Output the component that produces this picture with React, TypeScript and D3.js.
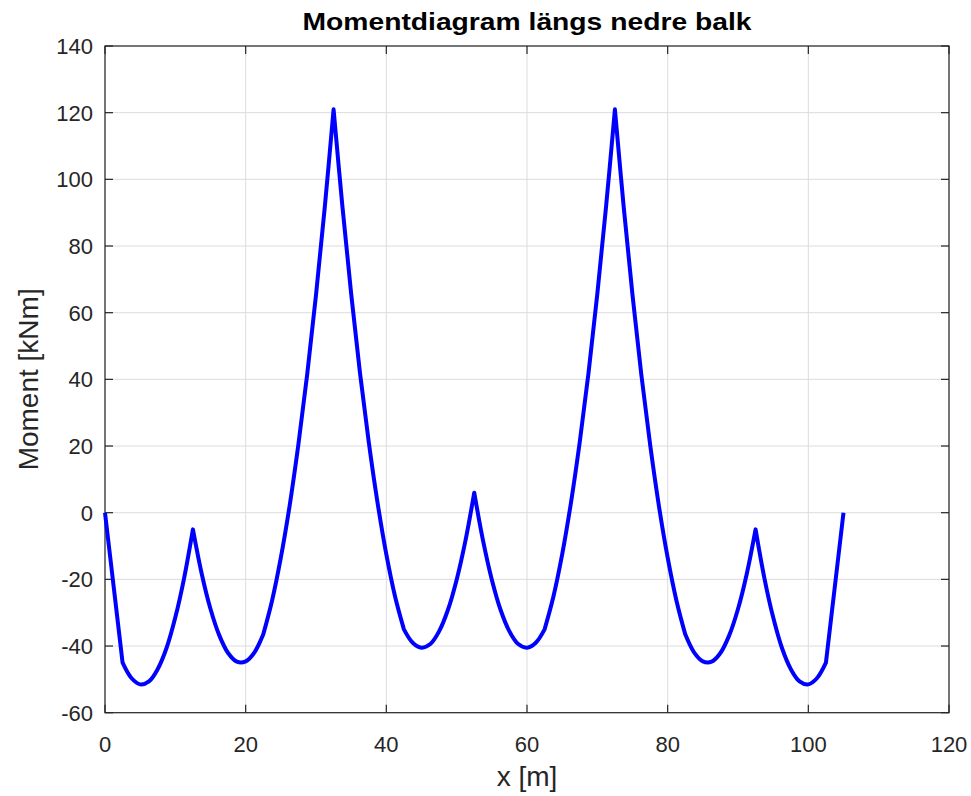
import React from "react";
import * as d3 from "d3";

const title = "Momentdiagram längs nedre balk";
const xLabel = "x [m]";
const yLabel = "Moment [kNm]";

const xTicks = [0, 20, 40, 60, 80, 100, 120];
const yTicks = [-60, -40, -20, 0, 20, 40, 60, 80, 100, 120, 140];

// positions along the beam [m]
const xValues = [
  0, 1.25, 2.5, 3.75, 5, 6.25, 7.5, 8.75, 10, 11.25,
  12.5, 13.75, 15, 16.25, 17.5, 18.75, 20, 21.25,
  22.5, 23.75, 25, 26.25, 27.5, 28.75, 30, 31.25,
  32.5, 33.75, 35, 36.25, 37.5, 38.75, 40, 41.25,
  42.5, 43.75, 45, 46.25, 47.5, 48.75, 50, 51.25,
  52.5, 53.75, 55, 56.25, 57.5, 58.75, 60, 61.25,
  62.5, 63.75, 65, 66.25, 67.5, 68.75, 70, 71.25,
  72.5, 73.75, 75, 76.25, 77.5, 78.75, 80, 81.25,
  82.5, 83.75, 85, 86.25, 87.5, 88.75, 90, 91.25,
  92.5, 93.75, 95, 96.25, 97.5, 98.75, 100, 101.25,
  102.5, 103.75, 105,
];

// bending moment [kNm]
const momentValues = [
  0, -22.5, -45, -49.6, -51.5, -50.6, -46.9, -40.6, -31.4, -19.6,
  -5.0, -18.3, -28.9, -36.8, -42.1, -44.7, -44.6, -41.9,
  -36.5, -26.4, -13.5, 2.1, 20.5, 41.5, 65.3, 91.7,
  121, 92.0, 65.7, 42.0, 21.2, 3.0, -12.5, -25.2,
  -35.0, -39.0, -40.5, -39.4, -35.6, -29.2, -20.1, -8.4,
  6.0, -8.4, -20.1, -29.2, -35.6, -39.4, -40.5, -39.0,
  -35.0, -25.2, -12.5, 3.0, 21.2, 42.0, 65.7, 92.0,
  121, 91.7, 65.3, 41.5, 20.5, 2.1, -13.5, -26.4,
  -36.5, -41.9, -44.6, -44.7, -42.1, -36.8, -28.9, -18.3,
  -5.0, -19.6, -31.4, -40.6, -46.9, -50.6, -51.5, -49.6,
  -45, -22.5, 0,
];

// load points / supports where the diagram has a kink [m]
const kinkX = [0, 2.5, 12.5, 22.5, 32.5, 42.5, 52.5, 62.5, 72.5, 82.5, 92.5, 102.5, 105];

const W = 971;
const H = 796;
const left = 105;
const right = 949;
const top = 46;
const bottom = 712.7;
const axisColor = "#262626";
const gridColor = "#dcdcdc";
const font = "'Liberation Sans', Arial, Helvetica, sans-serif";
const tickLen = 8;

export default function App() {
  const x = d3.scaleLinear().domain([0, 120]).range([left, right]);
  const y = d3.scaleLinear().domain([-60, 140]).range([bottom, top]);
  const pts: [number, number][] = xValues.map((v, i) => [v, momentValues[i]]);
  const line = d3
    .line<[number, number]>()
    .x((d) => x(d[0]))
    .y((d) => y(d[1]))
    .curve(d3.curveCatmullRom);

  let d = "";
  for (let k = 0; k < kinkX.length - 1; k++) {
    const seg = pts.filter((p) => p[0] >= kinkX[k] && p[0] <= kinkX[k + 1]);
    const s = line(seg) ?? "";
    d += k === 0 ? s : s.replace(/^M/, "L");
  }

  return (
    <svg
      width={W}
      height={H}
      style={{ position: "absolute", left: 0, top: 0, display: "block", background: "#fff" }}
    >
      <rect x={0} y={0} width={W} height={H} fill="#fff" />
      {/* grid */}
      {xTicks.map((t) => (
        <line key={"gx" + t} x1={x(t)} x2={x(t)} y1={top} y2={bottom} stroke={gridColor} strokeWidth={1} />
      ))}
      {yTicks.map((t) => (
        <line key={"gy" + t} x1={left} x2={right} y1={y(t)} y2={y(t)} stroke={gridColor} strokeWidth={1} />
      ))}
      {/* box */}
      <rect x={left} y={top} width={right - left} height={bottom - top} fill="none" stroke={axisColor} strokeWidth={1.2} />
      {/* ticks */}
      {xTicks.map((t) => (
        <g key={"tx" + t}>
          <line x1={x(t)} x2={x(t)} y1={bottom} y2={bottom - tickLen} stroke={axisColor} strokeWidth={1.2} />
          <line x1={x(t)} x2={x(t)} y1={top} y2={top + tickLen} stroke={axisColor} strokeWidth={1.2} />
          <text x={x(t)} y={752} textAnchor="middle" fontFamily={font} fontSize={22} fill={axisColor}>
            {t}
          </text>
        </g>
      ))}
      {yTicks.map((t) => (
        <g key={"ty" + t}>
          <line x1={left} x2={left + tickLen} y1={y(t)} y2={y(t)} stroke={axisColor} strokeWidth={1.2} />
          <line x1={right} x2={right - tickLen} y1={y(t)} y2={y(t)} stroke={axisColor} strokeWidth={1.2} />
          <text x={93} y={y(t)} dy="0.36em" textAnchor="end" fontFamily={font} fontSize={22} fill={axisColor}>
            {t}
          </text>
        </g>
      ))}
      {/* data */}
      <path d={d} fill="none" stroke="#0000ff" strokeWidth={4} strokeLinejoin="round" strokeLinecap="butt" />
      {/* labels */}
      <text x={(left + right) / 2} y={30} textAnchor="middle" fontFamily={font} fontWeight="bold" fontSize={24} fill="#000" textLength={449} lengthAdjust="spacingAndGlyphs">
        {title}
      </text>
      <text x={(left + right) / 2} y={786} textAnchor="middle" fontFamily={font} fontSize={28} fill={axisColor}>
        {xLabel}
      </text>
      <text transform={`translate(38,${(top + bottom) / 2}) rotate(-90)`} textAnchor="middle" fontFamily={font} fontSize={28} fill={axisColor}>
        {yLabel}
      </text>
    </svg>
  );
}
